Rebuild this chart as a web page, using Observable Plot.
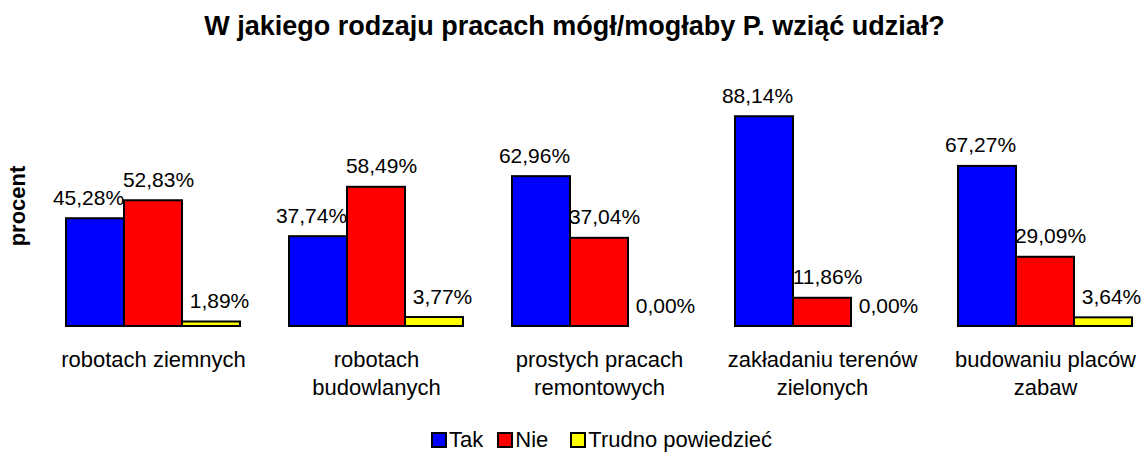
<!DOCTYPE html>
<html>
<head>
<meta charset="utf-8">
<script src="https://cdn.jsdelivr.net/npm/d3@7"></script>
<script src="https://cdn.jsdelivr.net/npm/@observablehq/plot@0.6"></script>
<style>
  body { margin: 0; background: #fff; font-family: "Liberation Sans", Arial, sans-serif; }
  #wrap { position: relative; width: 1143px; height: 452px; overflow: hidden; }
  #title { height: 49px; padding-top: 11px; font-size: 27px; line-height: 30px; font-weight: bold; text-align: center; color: #000; padding-left: 6px; }
  #ylab { position: absolute; left: 18px; top: 206px; transform: translate(-50%, -50%) rotate(-90deg); font-size: 22px; font-weight: bold; white-space: nowrap; }
  #legend { display: flex; align-items: center; padding-left: 431px; padding-top: 18px; height: 24px; font-size: 22px; }
  .item { display: flex; align-items: center; }
  .sw { width: 12px; height: 12px; border: 2px solid #000; margin-right: 2px; }
</style>
</head>
<body>
<div id="wrap">
  <div id="title">W jakiego rodzaju pracach mógł/mogłaby P. wziąć udział?</div>
  <div id="ylab">procent</div>
  <div id="chart"></div>
  <div id="legend"></div>
</div>
<script>
const categories = ["robotach ziemnych", "robotach budowlanych", "prostych pracach remontowych", "zakładaniu terenów zielonych", "budowaniu placów zabaw"];
const categoryTickLabels = ["robotach ziemnych", "robotach\nbudowlanych", "prostych pracach\nremontowych", "zakładaniu terenów\nzielonych", "budowaniu placów\nzabaw"];
const seriesNames = ["Tak", "Nie", "Trudno powiedzieć"];
const tak = [45.28, 37.74, 62.96, 88.14, 67.27];
const nie = [52.83, 58.49, 37.04, 11.86, 29.09];
const trudno = [1.89, 3.77, 0.00, 0.00, 3.64];
const colors = ["#0000ff", "#ff0000", "#ffff00"];

const seriesValues = [tak, nie, trudno];
const data = [];
categories.forEach((c, i) => {
  seriesNames.forEach((s, j) => data.push({category: c, series: s, value: seriesValues[j][i]}));
});
const fmt = v => v.toFixed(2).replace(".", ",") + "%";
const labelShift = {"Tak": -7, "Nie": 5, "Trudno powiedzieć": 8};

const chart = Plot.plot({
  width: 1143,
  height: 350,
  marginLeft: 63,
  marginRight: 8,
  marginTop: 28,
  marginBottom: 84,
  style: {fontFamily: "'Liberation Sans', Arial, sans-serif", fontSize: "21px", color: "#000", background: "#fff", overflow: "visible"},
  fx: {domain: categories, paddingInner: 0.21, paddingOuter: 0, axis: null, label: null},
  x: {domain: seriesNames, padding: 0, axis: null},
  y: {domain: [0, 100], axis: null},
  color: {domain: seriesNames, range: colors},
  marks: [
    Plot.barY(data.filter(d => d.value > 0), {fx: "category", x: "series", y: "value", fill: "series", stroke: "#000", strokeWidth: 2}),
    ...seriesNames.map(s => Plot.text(data.filter(d => d.series === s), {
      fx: "category", x: "series", y: "value", text: d => fmt(d.value),
      lineAnchor: "bottom", dy: -14, dx: labelShift[s], fontSize: 21, fill: "#000"
    })),
    Plot.axisFx({
      anchor: "bottom", tickSize: 0, tickPadding: 21, fontSize: 22, lineHeight: 1.25, label: null, fill: "#000",
      tickFormat: c => categoryTickLabels[categories.indexOf(c)]
    })
  ]
});
document.getElementById("chart").appendChild(chart);

const legend = document.getElementById("legend");
seriesNames.forEach((s, j) => {
  const it = document.createElement("div");
  it.className = "item";
  it.style.marginRight = j === 0 ? "14px" : "22px";
  const sw = document.createElement("div");
  sw.className = "sw";
  sw.style.background = colors[j];
  const t = document.createElement("span");
  t.textContent = s;
  it.appendChild(sw); it.appendChild(t);
  legend.appendChild(it);
});
</script>
</body>
</html>
